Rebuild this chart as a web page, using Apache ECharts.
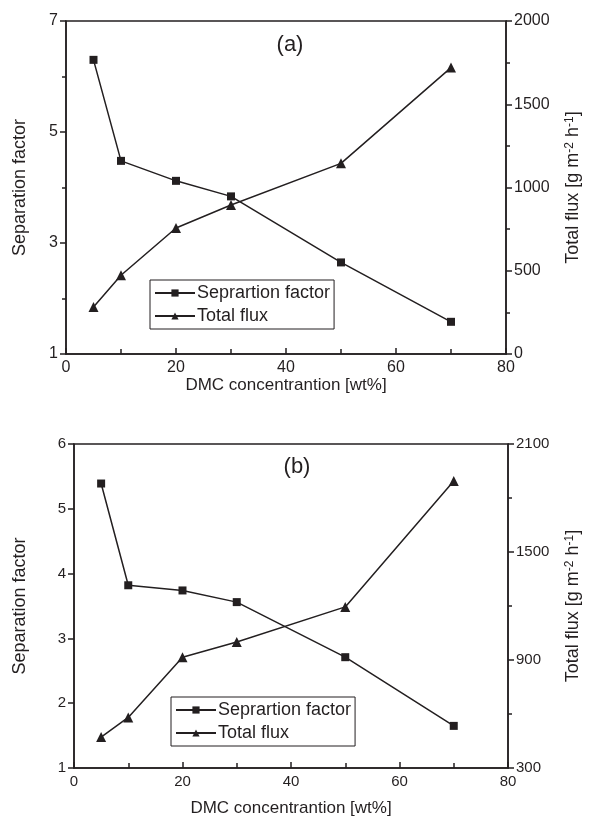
<!DOCTYPE html>
<html>
<head>
<meta charset="utf-8">
<script src="https://cdn.jsdelivr.net/npm/echarts@6/dist/echarts.min.js"></script>
<style>
  html, body { margin: 0; padding: 0; background: #fff; }
  #chart { width: 590px; height: 818px; }
</style>
</head>
<body>
<div id="chart"></div>
<script>
// DMC concentration [wt%]
var dmc = [5, 10, 20, 30, 50, 70];
// panel (a)
var sepA = [6.30, 4.48, 4.12, 3.84, 2.65, 1.58];
var fluxA = [282, 473, 757, 895, 1145, 1720];
// panel (b)
var sepB = [5.39, 3.82, 3.74, 3.56, 2.71, 1.65];
var fluxB = [472, 581, 915, 1000, 1195, 1895];

var seriesNames = ['Seprartion factor', 'Total flux'];
var xName = 'DMC concentrantion [wt%]';
var ink = '#231f20';
var font = 'Liberation Sans, Arial, sans-serif';

function pairs(xs, ys) {
    return xs.map(function (x, i) { return [x, ys[i]]; });
}

var fluxName = 'Total flux [g m{s|-2} h{s|-1}]';
var rich = { s: { fontSize: 12, verticalAlign: 'top', lineHeight: 12, fontFamily: font, color: ink } };

function plain(v) { return String(v); }

function xAxisOf(grid, gap, labelSize) {
    return {
        gridIndex: grid, type: 'value', min: 0, max: 80, interval: 20,
        name: xName, nameLocation: 'middle', nameGap: gap,
        nameTextStyle: { fontSize: 17, color: ink, fontFamily: font },
        axisLine: { lineStyle: { color: ink, width: 1.5 } },
        axisTick: { inside: true, length: 6, lineStyle: { color: ink, width: 1.5 } },
        minorTick: { show: true, splitNumber: 2, length: 5, lineStyle: { color: ink, width: 1.5 } },
        axisLabel: { fontSize: labelSize, color: ink, fontFamily: font, margin: 6, formatter: plain },
        splitLine: { show: false }
    };
}

function yAxisOf(grid, pos, min, max, step, minor, name, gap, labelSize) {
    return {
        gridIndex: grid, type: 'value', position: pos, min: min, max: max, interval: step,
        name: name, nameLocation: 'middle', nameGap: gap, nameRotate: 90,
        nameTextStyle: { fontSize: 18, color: ink, fontFamily: font, rich: rich },
        axisLine: { show: true, onZero: false, lineStyle: { color: ink, width: 1.5 } },
        axisTick: { inside: false, length: 6, lineStyle: { color: ink, width: 1.5 } },
        minorTick: { show: minor, splitNumber: 2, length: 4, lineStyle: { color: ink, width: 1.5 } },
        axisLabel: { fontSize: labelSize, color: ink, fontFamily: font, margin: 8, formatter: plain },
        splitLine: { show: false }
    };
}

function lineSeries(name, xi, yi, data, symbol, size) {
    return {
        name: name, type: 'line', xAxisIndex: xi, yAxisIndex: yi, data: data,
        symbol: symbol, symbolSize: size, showSymbol: true,
        lineStyle: { color: ink, width: 1.5 },
        itemStyle: { color: ink },
        animation: false
    };
}

function legendOf(left, top) {
    return {
        left: left, top: top, orient: 'vertical',
        data: seriesNames,
        borderColor: ink, borderWidth: 1, padding: [4, 4, 4, 4],
        itemWidth: 40, itemHeight: 9, itemGap: 5,
        textStyle: { fontSize: 18, color: ink, fontFamily: font, padding: [0, 0, 0, -3] },
        selectedMode: false
    };
}

var chart = echarts.init(document.getElementById('chart'));
chart.setOption({
    backgroundColor: '#fff',
    animation: false,
    title: [
        { text: '(a)', left: 285, top: 29, textAlign: 'center',
          textStyle: { fontSize: 22, fontWeight: 'normal', color: ink, fontFamily: font } },
        { text: '(b)', left: 292, top: 451, textAlign: 'center',
          textStyle: { fontSize: 22, fontWeight: 'normal', color: ink, fontFamily: font } }
    ],
    grid: [
        { left: 66, top: 21, width: 447, height: 333, show: true, borderColor: ink, borderWidth: 1.5, backgroundColor: 'transparent' },
        { left: 74, top: 444, width: 441, height: 325, show: true, borderColor: ink, borderWidth: 1.5, backgroundColor: 'transparent' }
    ],
    legend: [legendOf(150, 280), legendOf(171, 697)],
    xAxis: [xAxisOf(0, 22, 16), xAxisOf(1, 32, 15)],
    yAxis: [
        yAxisOf(0, 'left', 1, 7, 2, true, 'Separation factor', 37, 16),
        yAxisOf(0, 'right', 0, 2000, 500, true, fluxName, 58, 16),
        yAxisOf(1, 'left', 1, 6, 1, false, 'Separation factor', 45, 15),
        yAxisOf(1, 'right', 300, 2100, 600, true, fluxName, 56, 15)
    ],
    series: [
        lineSeries(seriesNames[0], 0, 0, pairs(dmc, sepA), 'rect', 8),
        lineSeries(seriesNames[1], 0, 1, pairs(dmc, fluxA), 'triangle', 10),
        lineSeries(seriesNames[0], 1, 2, pairs(dmc, sepB), 'rect', 8),
        lineSeries(seriesNames[1], 1, 3, pairs(dmc, fluxB), 'triangle', 10)
    ]
});
</script>
</body>
</html>
